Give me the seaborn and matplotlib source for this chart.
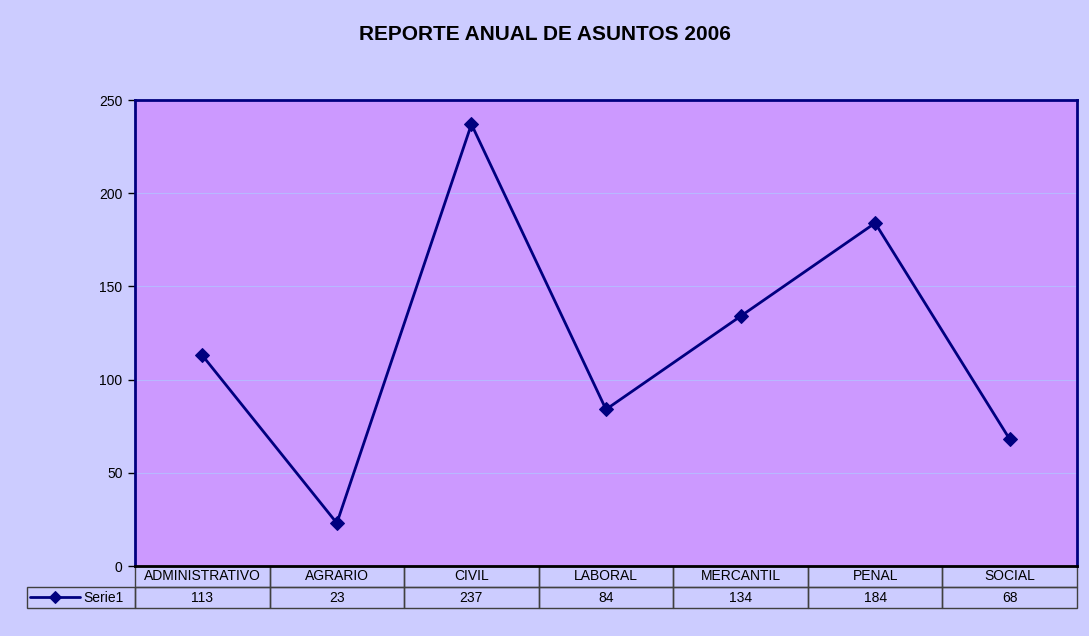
import matplotlib
matplotlib.use('Agg')
import matplotlib.pyplot as plt
import seaborn as sns
import pandas as pd

# datos del reporte
categorias = ['ADMINISTRATIVO', 'AGRARIO', 'CIVIL', 'LABORAL', 'MERCANTIL', 'PENAL', 'SOCIAL']
asuntos = [113, 23, 237, 84, 134, 184, 68]
serie = 'Serie1'
titulo = 'REPORTE ANUAL DE ASUNTOS 2006'

sns.set_style('white')
plt.rcParams['font.family'] = ['Liberation Sans', 'DejaVu Sans']
plt.rcParams['text.color'] = 'black'
plt.rcParams['ytick.color'] = 'black'
plt.rcParams['ytick.labelcolor'] = 'black'

df = pd.DataFrame({'categoria': categorias, 'asuntos': asuntos})

fig = plt.figure(figsize=(10.89, 6.36), dpi=100, facecolor='#CCCCFF')
ax = fig.add_axes([135/1089, 70/636, 942/1089, 466/636])
ax.set_facecolor('#CC99FF')

sns.lineplot(data=df, x='categoria', y='asuntos', ax=ax, color='#000080',
             linewidth=2, marker='D', markersize=7, markeredgecolor='#000080',
             label=serie, sort=False)

ax.set_xlim(-0.5, len(categorias) - 0.5)
ax.set_ylim(0, 250)
ax.set_yticks(range(0, 251, 50))
ax.set_xticks([])
ax.set_xlabel('')
ax.set_ylabel('')
ax.tick_params(axis='y', direction='out', length=5, width=1, color='black',
               labelsize=10, left=True, pad=4, labelcolor='black')
for y in range(50, 251, 50):
    ax.axhline(y, color='#B8B8FF', linewidth=0.8, zorder=0)
for s in ax.spines.values():
    s.set_color('#000080')
    s.set_linewidth(2)
ax.spines['bottom'].set_color('black')

# tabla de datos bajo el eje
ancho_leyenda = 108 / 942
ancho_col = 1 / len(categorias)
tabla = ax.table(cellText=[[''] + [str(v) for v in asuntos]],
                 colLabels=[''] + categorias,
                 cellLoc='center',
                 bbox=[-ancho_leyenda, -42/466, 1 + ancho_leyenda, 42/466])
tabla.auto_set_font_size(False)
tabla.set_fontsize(10)
total = 1 + ancho_leyenda
for (r, c), cell in tabla.get_celld().items():
    cell.set_facecolor('none')
    cell.set_edgecolor('#404040')
    cell.set_linewidth(1)
    cell.set_width((ancho_leyenda if c == 0 else ancho_col) / total)
    cell.get_text().set_color('black')
tabla[0, 0].visible_edges = 'open'

leg = ax.legend(loc='center', bbox_to_anchor=(77/1089, 38/636), bbox_transform=fig.transFigure,
                frameon=False, fontsize=10, handlelength=3.6, handletextpad=0.2,
                borderpad=0, borderaxespad=0, markerscale=0.9)
for t in leg.get_texts():
    t.set_color('black')

fig.suptitle(titulo, fontsize=15, fontweight='bold', y=1 - 34/636, va='center',
             color='black')

fig.savefig('out.png', dpi=100, facecolor=fig.get_facecolor())
